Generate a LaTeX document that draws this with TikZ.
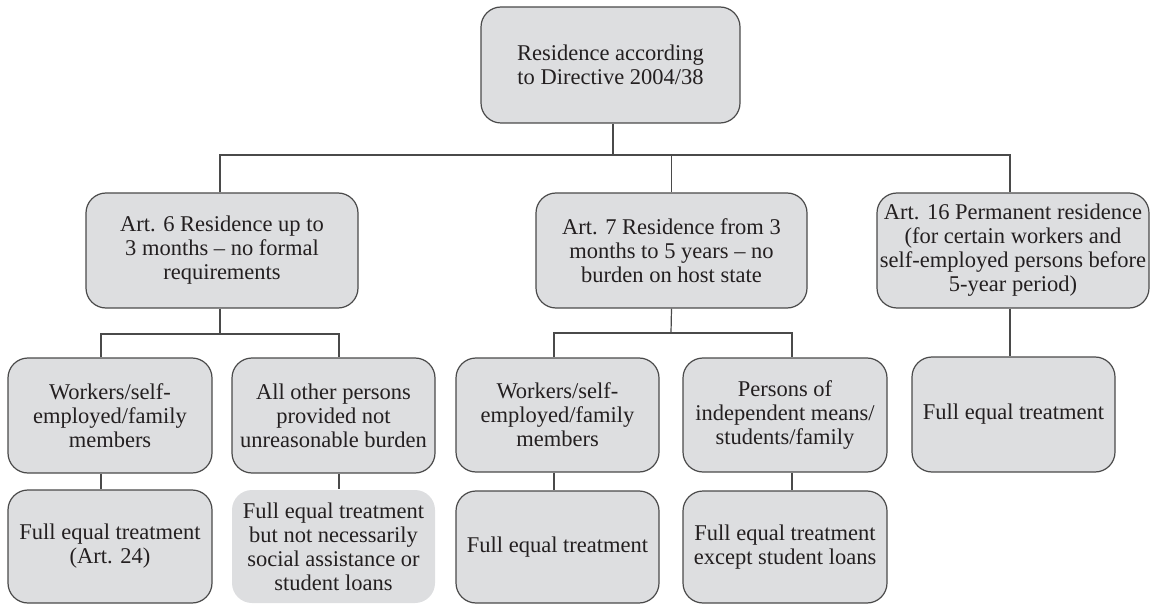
\documentclass[tikz,border=0pt]{standalone}
\usepackage{fontspec}
\setmainfont{Liberation Serif}
\definecolor{boxfill}{HTML}{DDDEE0}
\definecolor{boxline}{HTML}{4A4A4A}
\definecolor{txt}{HTML}{231F20}
\begin{document}
\begin{tikzpicture}[x=1pt,y=-1pt,
  box/.style={draw=boxline, line width=1.2pt, fill=boxfill, rounded corners=20pt,
    inner sep=0pt, align=center, text=txt,
    font=\fontsize{22.5}{24}\selectfont},
  plainbox/.style={box, draw=none},
  conn/.style={draw=boxline, line width=1.2pt}]
\useasboundingbox (0,0) rectangle (1160,604);
% level 0
\node[box, minimum width=259pt, minimum height=116pt] (top) at (610.5,65) {Residence according\\to Directive 2004/38};
% level 1
\node[box, minimum width=272pt, minimum height=115pt] (a6) at (222,250.5) {Art. 6 Residence up to\\3 months – no formal\\requirements};
\node[box, minimum width=271pt, minimum height=115pt] (a7) at (671.5,250.5) {Art. 7 Residence from 3\\months to 5 years – no\\burden on host state};
\node[box, minimum width=272pt, minimum height=115pt] (a16) at (1013,250.5) {Art. 16 Permanent residence\\(for certain workers and\\self-employed persons before\\5-year period)};
% level 2
\node[box, minimum width=204pt, minimum height=115pt] (w6) at (110,415.5) {Workers/self-\\employed/family\\members};
\node[box, minimum width=203pt, minimum height=115pt] (o6) at (333.5,415.5) {All other persons\\provided not\\unreasonable burden};
\node[box, minimum width=203pt, minimum height=114pt] (w7) at (557.5,415) {Workers/self-\\employed/family\\members};
\node[box, minimum width=204pt, minimum height=114pt] (p7) at (785,415) {Persons of\\independent means/\\students/family};
\node[box, minimum width=203pt, minimum height=115pt] (f16) at (1013.5,414.5) {Full equal treatment};
% level 3
\node[box, minimum width=204pt, minimum height=113pt] (fw6) at (110,546.5) {Full equal treatment\\(Art. 24)};
\node[plainbox, minimum width=203pt, minimum height=113pt] (fo6) at (333.5,546.5) {Full equal treatment\\but not necessarily\\social assistance or\\student loans};
\node[box, minimum width=203pt, minimum height=112pt] (fw7) at (557.5,547) {Full equal treatment};
\node[box, minimum width=204pt, minimum height=112pt] (fp7) at (785,547) {Full equal treatment\\except student loans};
% junction coordinates
\coordinate (bus0) at (613,155);
\coordinate (bus6) at (220,334);
\coordinate (bus7) at (671,333);
% top level connectors
\draw[conn] ([xshift=2.5pt]top.south) -- (bus0);
\draw[conn] ([xshift=-2pt]a6.north) |- ([xshift=-3pt]a16.north |- bus0) -- ([xshift=-3pt]a16.north);
\draw[conn] (a7.north) -- (a7.north |- bus0);
% Art. 6 children
\draw[conn] ([xshift=-2pt]a6.south) -- (bus6);
\draw[conn] ([xshift=-9pt]w6.north) |- ([xshift=5.5pt]o6.north |- bus6) -- ([xshift=5.5pt]o6.north);
% Art. 7 children
\draw[conn] (a7.south) -- (bus7);
\draw[conn] ([xshift=-3.5pt]w7.north) |- ([xshift=7pt]p7.north |- bus7) -- ([xshift=7pt]p7.north);
% Art. 16 child
\draw[conn] ([xshift=-3pt]a16.south) -- ([xshift=-3.5pt]f16.north);
% level 3 connectors
\draw[conn] ([xshift=-9pt]w6.south) -- ([xshift=-9pt]fw6.north);
\draw[conn] ([xshift=5.5pt]o6.south) -- ([xshift=5.5pt]fo6.north);
\draw[conn] ([xshift=-3.5pt]w7.south) -- ([xshift=-3.5pt]fw7.north);
\draw[conn] ([xshift=7pt]p7.south) -- ([xshift=7pt]fp7.north);
\end{tikzpicture}
\end{document}
